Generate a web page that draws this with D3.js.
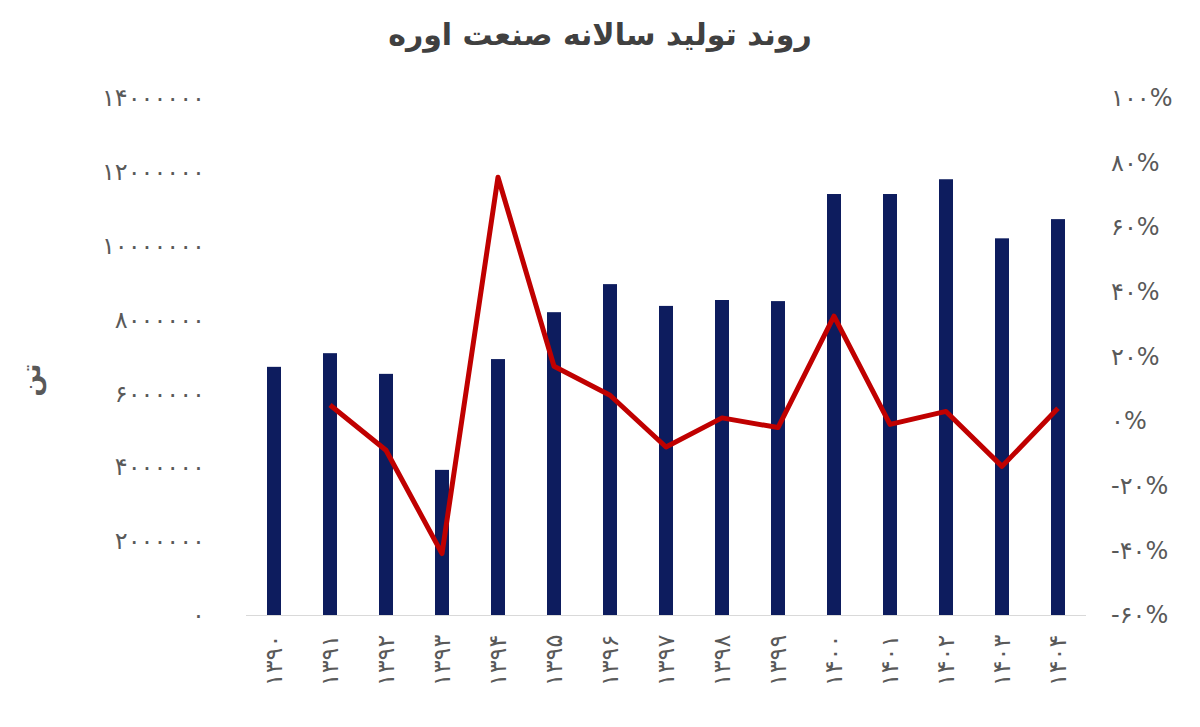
<!DOCTYPE html>
<html><head><meta charset="utf-8">
<script src="https://cdn.jsdelivr.net/npm/d3@7"></script>
<style>body{margin:0;background:#fff}text{font-family:"DejaVu Sans",sans-serif}</style>
</head><body><svg id="c" width="1200" height="727"></svg>
<script>
const years = ["1390","1391","1392","1393","1394","1395","1396","1397","1398","1399","1400","1401","1402","1403","1404"];
const production = [6720000,7090000,6530000,3930000,6930000,8200000,8960000,8370000,8530000,8500000,11400000,11400000,11800000,10200000,10720000];
const growth = [null,0.05,-0.09,-0.41,0.755,0.17,0.08,-0.08,0.01,-0.02,0.325,-0.01,0.03,-0.14,0.04];
const leftTicks = [0,2000000,4000000,6000000,8000000,10000000,12000000,14000000];
const rightTicks = [-0.6,-0.4,-0.2,0,0.2,0.4,0.6,0.8,1.0];

const fa = s => String(s).replace(/[0-9]/g, d => "۰۱۲۳۴۵۶۷۸۹"[d]);
const svg = d3.select("#c");
const plotTop = 98, bottom = 615, left = 246, right = 1086;

const x = d3.scaleBand().domain(years).range([left, right]).paddingInner(0.75).paddingOuter(0.375);
const y = d3.scaleLinear().domain([0, 14000000]).range([bottom, plotTop]);
const y2 = d3.scaleLinear().domain([-0.6, 1.0]).range([bottom, plotTop]);

svg.append("text").attr("x", 600).attr("y", 45).attr("text-anchor", "middle")
  .attr("font-size", 30).attr("font-weight", "bold").attr("fill", "#404040")
  .text("روند تولید سالانه صنعت اوره");

const la = svg.append("g").attr("transform", `translate(${left - 38},0)`)
  .call(d3.axisLeft(y).tickValues(leftTicks).tickSize(0).tickFormat(d => fa(d)));
la.select(".domain").remove();
la.selectAll("text").attr("font-size", 24).attr("fill", "#595959");

const ra = svg.append("g").attr("transform", `translate(${right + 22},0)`)
  .call(d3.axisRight(y2).tickValues(rightTicks).tickSize(0).tickFormat(d => fa(Math.round(d * 100)) + "%"));
ra.select(".domain").remove();
ra.selectAll("text").attr("font-size", 24).attr("fill", "#595959");

svg.append("line").attr("x1", left).attr("x2", right).attr("y1", bottom + 0.5).attr("y2", bottom + 0.5)
  .attr("stroke", "#d9d9d9");

const xa = svg.append("g").attr("transform", `translate(0,${bottom + 10})`)
  .call(d3.axisBottom(x).tickSize(0).tickFormat(d => fa(d)));
xa.select(".domain").remove();
xa.selectAll("text").attr("font-size", 24).attr("fill", "#595959")
  .attr("text-anchor", "end").attr("dx", "-0.4em").attr("dy", "0.35em")
  .attr("x", 0).attr("y", 0).attr("transform", "rotate(-90)");

svg.append("text").attr("transform", "translate(40,380) rotate(-90)").attr("text-anchor", "middle")
  .attr("font-size", 26).attr("font-weight", "bold").attr("fill", "#595959").text("تن");

svg.append("g").selectAll("rect").data(years).join("rect")
  .attr("x", d => x(d)).attr("width", x.bandwidth())
  .attr("y", (d, i) => y(production[i])).attr("height", (d, i) => bottom - y(production[i]))
  .attr("fill", "#0d1c5e");

const line = d3.line().defined(d => d[1] != null)
  .x(d => x(d[0]) + x.bandwidth() / 2).y(d => y2(d[1]));
svg.append("path").datum(years.map((d, i) => [d, growth[i]]))
  .attr("fill", "none").attr("stroke", "#c00000").attr("stroke-width", 5)
  .attr("stroke-linejoin", "round").attr("d", line);
</script></body></html>
